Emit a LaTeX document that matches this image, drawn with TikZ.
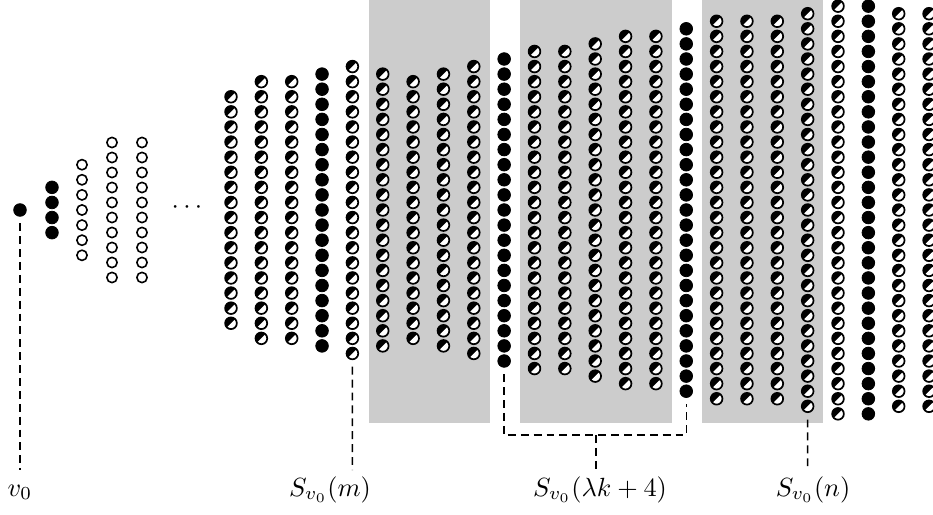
\documentclass[tikz,border=0pt]{standalone}
\begin{document}
\begin{tikzpicture}[x=0.38pt,y=-0.38pt,
  wc/.style={circle,draw=black,fill=white,line width=0.6pt,minimum size=3.9pt,inner sep=0pt},
  bc/.style={circle,draw=black,fill=black,line width=0.3pt,minimum size=4.8pt,inner sep=0pt},
  hc/.style={circle,draw=black,fill=black,line width=0.65pt,minimum size=4.45pt,inner sep=0pt,
    path picture={\fill[white] (path picture bounding box.south west) -- (path picture bounding box.north east) -- (path picture bounding box.south east) -- cycle;}},
  dl/.style={line width=0.55pt,dash pattern=on 3pt off 1.9pt},
  lab/.style={inner sep=0pt,anchor=base,font=\normalsize},
  band/.style={fill=black!20,draw=none}]
\useasboundingbox (0,0) rectangle (933,515);
% gray bands
\fill[band] (369,0) rectangle (490,423);
\fill[band] (520,0) rectangle (672,423);
\fill[band] (702,0) rectangle (823,423);
% left part
\node[bc] (v0) at (20,210) {};
\foreach \j in {1,...,4} \node[bc] (a\j) at (52,{210+(\j-2.5)*15.1}) {};
\foreach \j in {1,...,7} \node[wc] (b\j) at (82,{210+(\j-4)*15.1}) {};
\foreach \j in {1,...,10} \node[wc] (d\j) at (112,{210+(\j-5.5)*15}) {};
\foreach \j in {1,...,10} \node[wc] (f\j) at (142,{210+(\j-5.5)*15}) {};
\node[inner sep=0pt,font=\normalsize] (dots) at (187,208) {$\cdots$};
% big columns
\foreach \n/\ty [count=\i from 0] in {16/hc,18/hc,18/hc,19/bc,20/hc,19/hc,18/hc,19/hc,20/hc,21/bc,22/hc,22/hc,23/hc,24/hc,24/hc,25/bc,26/hc,26/hc,26/hc,27/hc,28/hc,28/bc,27/hc,27/hc}
  \foreach \j in {1,...,\n}
    \node[\ty] (c\i-\j) at ({231+30.35*\i},{210+(\j-(\n+1)/2)*15.1}) {};
% connectors
\coordinate (e0) at (20,470);
\coordinate (em) at (352.4,470);
\coordinate (bk) at (596,435);
\coordinate (ek) at (596,470);
\coordinate (en) at (807.65,470);
\draw[dl,shorten <=2.5pt] (v0) -- (e0);
\draw[dl,shorten <=2.5pt] (c4-20) -- (em);
\draw[dl,shorten <=2.5pt,shorten >=2.5pt] (c9-21) |- (bk) -| (c15-25);
\draw[dl] (bk) -- (ek);
\draw[dl,shorten <=2.5pt] (c19-27) -- (en);
% labels
\node[lab] (lv0) at (20,496) {$v_0$};
\node[lab] (lm) at (330,496) {$S_{v_0}(m)$};
\node[lab] (lk) at (600,496) {$S_{v_0}(\lambda k+4)$};
\node[lab] (ln) at (813,496) {$S_{v_0}(n)$};
\end{tikzpicture}
\end{document}
